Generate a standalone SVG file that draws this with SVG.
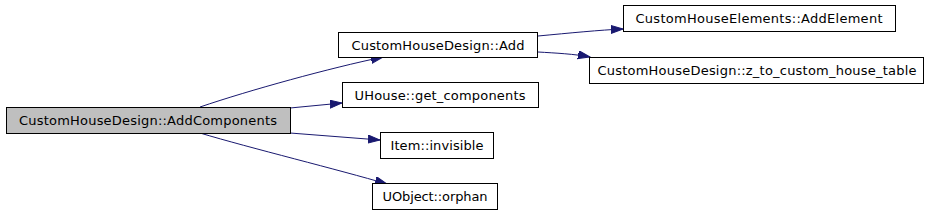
<svg xmlns="http://www.w3.org/2000/svg" width="936" height="215" viewBox="0 0 936 215">
<style>
.box{fill:#ffffff;stroke:#000000;stroke-width:1}
.main{fill:#bfbfbf;stroke:#000000;stroke-width:1}
.lbl{font-family:"DejaVu Sans",sans-serif;font-size:13px;fill:#000000;text-anchor:middle}
.edge{fill:none;stroke:#191970;stroke-width:1;marker-end:url(#arr)}
</style>
<defs>
<marker id="arr" markerUnits="userSpaceOnUse" markerWidth="13" markerHeight="9" refX="12" refY="4" orient="auto">
<path d="M0,0 L12,4 L0,8 z" fill="#191970" stroke="#191970"/>
</marker>
</defs>
<rect width="936" height="215" fill="#ffffff"/>
<g id="edges">
<path class="edge" d="M200,107 C250,90 330,68 383,57"/>
<path class="edge" d="M290,108 L342,103"/>
<path class="edge" d="M290,133 L380,140"/>
<path class="edge" d="M200,133 C250,148 340,170 387,184"/>
<path class="edge" d="M538,36 C570,33 600,30 623,29"/>
<path class="edge" d="M538,52 C555,53 575,54 590,57"/>
</g>
<g id="n_main">
<rect class="main" x="6.5" y="107.5" width="284" height="26"/>
<text class="lbl" x="148" y="125" textLength="258" lengthAdjust="spacing">CustomHouseDesign::AddComponents</text>
</g>
<g id="n_add">
<rect class="box" x="338.5" y="32.5" width="199" height="25"/>
<text class="lbl" x="438" y="49.5" textLength="173" lengthAdjust="spacing">CustomHouseDesign::Add</text>
</g>
<g id="n_addelement">
<rect class="box" x="623.5" y="5.5" width="272" height="26"/>
<text class="lbl" x="759" y="23" textLength="247" lengthAdjust="spacing">CustomHouseElements::AddElement</text>
</g>
<g id="n_ztable">
<rect class="box" x="589.5" y="57.5" width="334" height="26"/>
<text class="lbl" x="757" y="75" textLength="319" lengthAdjust="spacing">CustomHouseDesign::z_to_custom_house_table</text>
</g>
<g id="n_uhouse">
<rect class="box" x="342.5" y="82.5" width="196" height="25"/>
<text class="lbl" x="440" y="99.5" textLength="171" lengthAdjust="spacing">UHouse::get_components</text>
</g>
<g id="n_item">
<rect class="box" x="380.5" y="132.5" width="113" height="26"/>
<text class="lbl" x="437" y="150" textLength="93" lengthAdjust="spacing">Item::invisible</text>
</g>
<g id="n_uobject">
<rect class="box" x="372.5" y="183.5" width="125" height="26"/>
<text class="lbl" x="435" y="201" textLength="105" lengthAdjust="spacing">UObject::orphan</text>
</g>
</svg>
